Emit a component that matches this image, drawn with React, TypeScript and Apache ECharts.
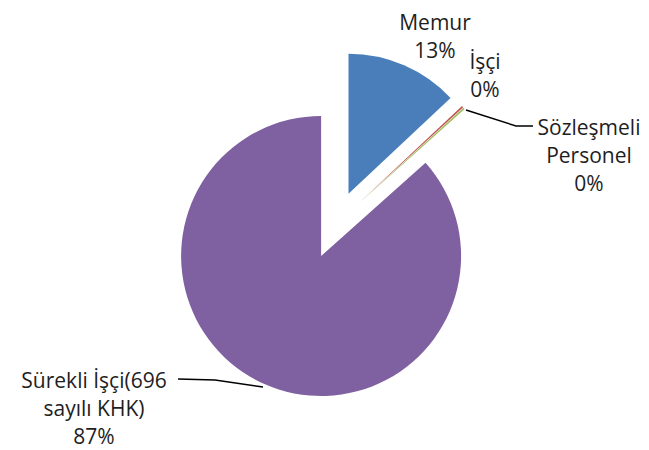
import React, { useEffect, useRef } from "react";
import * as echarts from "echarts";

const categories = ["Memur", "İşçi", "Sözleşmeli\nPersonel", "Sürekli İşçi(696\nsayılı KHK)"];
const values = [13.0, 0.2, 0.2, 86.6];
const colors = ["#4A7EBB", "#C0504D", "#9BBB59", "#7F60A0"];

const CENTER = [335, 225];
const RADIUS = 140;
const EXPLODE = 34;

// target label centers and guide line points (page pixels)
const labelPos: { x: number; y: number; line?: number[][] }[] = [
  { x: 435, y: 36 },
  { x: 485, y: 75 },
  { x: 589, y: 155, line: [[466, 110], [516, 126], [533, 126]] },
  { x: 94, y: 408, line: [[263, 387], [215, 380], [178, 379]] },
];

function explodeOffset(i: number): number[] {
  const total = values.reduce((a, b) => a + b, 0);
  let before = 0;
  for (let k = 0; k < i; k++) before += values[k];
  const mid = ((before + values[i] / 2) / total) * Math.PI * 2;
  return [EXPLODE * Math.sin(mid), -EXPLODE * Math.cos(mid)];
}

export default function App() {
  const ref = useRef<HTMLDivElement>(null);
  useEffect(() => {
    document.body.style.margin = "0";
    const chart = echarts.init(ref.current!, null, { renderer: "svg" });
    chart.setOption({
      animation: false,
      backgroundColor: "#ffffff",
      series: [
        {
          type: "pie",
          center: CENTER,
          radius: [0, RADIUS],
          startAngle: 90,
          clockwise: true,
          selectedMode: "multiple",
          selectedOffset: EXPLODE,
          avoidLabelOverlap: false,
          minAngle: 0,
          select: { itemStyle: {} },
          emphasis: { disabled: true },
          label: {
            show: true,
            position: "outside",
            fontFamily: "Open Sans",
            fontSize: 21,
            lineHeight: 28,
            color: "#1e1e1e",
            formatter: (p: any) => `${p.name}\n${Math.round(p.percent)}%`,
          },
          labelLine: { show: true, lineStyle: { color: "#000", width: 1.5 }, length: 10, length2: 10 },
          labelLayout: (params: any) => {
            const i = params.dataIndex;
            const pos = labelPos[i];
            const r = params.labelRect;
            const off = explodeOffset(i);
            const ax =
              params.align === "left" ? r.x : params.align === "right" ? r.x + r.width : r.x + r.width / 2;
            const ay =
              params.verticalAlign === "top"
                ? r.y
                : params.verticalAlign === "bottom"
                ? r.y + r.height
                : r.y + r.height / 2;
            const out: any = {
              align: "center",
              verticalAlign: "middle",
              dx: pos.x - off[0] - ax,
              dy: pos.y - off[1] - ay,
            };
            if (pos.line) {
              out.labelLinePoints = pos.line.map((p) => [p[0] - off[0], p[1] - off[1]]);
            }
            return out;
          },
          data: categories.map((name, i) => ({
            name,
            value: values[i],
            selected: true,
            itemStyle: { color: colors[i], borderWidth: 0 },
            labelLine: { show: i >= 2 },
          })),
        },
      ],
    });
    return () => chart.dispose();
  }, []);
  return <div ref={ref} style={{ width: 649, height: 450 }} />;
}
